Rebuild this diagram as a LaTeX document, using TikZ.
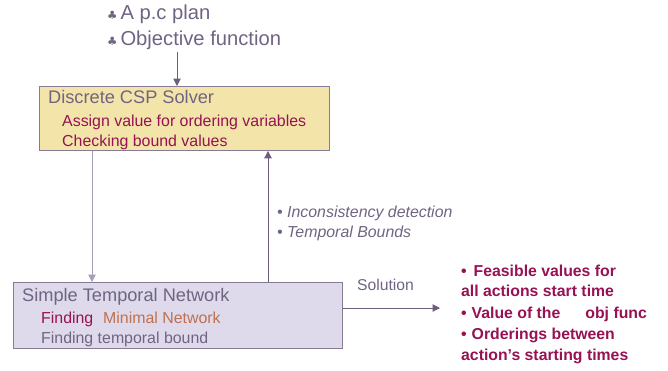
\documentclass[tikz,border=0pt]{standalone}
\usepackage{fontspec}
\setmainfont{Liberation Sans}
\newfontfamily\symfont{DejaVu Sans}
\usetikzlibrary{arrows.meta}
\definecolor{inkgray}{RGB}{112,100,130}
\definecolor{maroon}{RGB}{150,18,82}
\definecolor{rust}{RGB}{192,112,78}
\definecolor{solverfill}{RGB}{243,229,170}
\definecolor{stnfill}{RGB}{222,218,236}
\definecolor{frame}{RGB}{135,122,148}
\definecolor{lightlink}{RGB}{168,158,184}
\definecolor{darklink}{RGB}{108,94,124}
\tikzset{
  txt/.style={inner sep=0pt, anchor=base west},
  head/.style={txt, text=inkgray, font=\fontsize{18.2}{20}\selectfont},
  sub/.style={txt, font=\fontsize{15.9}{18}\selectfont},
  lbl/.style={txt, text=inkgray, font=\fontsize{15.7}{18}\selectfont},
  res/.style={txt, text=maroon, font=\bfseries\fontsize{15.8}{18}\selectfont},
  panel/.style={draw=frame, line width=0.9pt, anchor=north west, inner sep=0pt},
  link/.style={line width=1pt, -{Triangle[length=7.5pt,width=7.5pt]}},
}
\newcommand{\club}{{\symfont\fontsize{11.5}{11.5}\selectfont\char"2663}}
\begin{document}
\begin{tikzpicture}[x=1pt,y=-1pt]
\useasboundingbox (0,0) rectangle (668,370);

% inputs
\node[head, font=\fontsize{20.2}{22}\selectfont] (plan) at (107,19) {\club\hspace{3pt}A p.c plan};
\node[head, font=\fontsize{20.2}{22}\selectfont] (objf) at (107,45) {\club\hspace{3pt}Objective function};
\coordinate (inp) at (177,52);

% CSP solver panel
\node[panel, fill=solverfill, minimum width=290pt, minimum height=64pt] (csp) at (39,86) {};
\node[head] (csph) at (48,103.5) {Discrete CSP Solver};
\node[sub, text=maroon] (csp1) at (62,126.5) {Assign value for ordering variables};
\node[sub, text=maroon] (csp2) at (62,146) {Checking bound values};

% STN panel
\node[panel, fill=stnfill, minimum width=329pt, minimum height=66pt] (stn) at (13,282) {};
\node[head] (stnh) at (22,301) {Simple Temporal Network};
\node[sub, text=maroon] (stn1) at (41,323.5) {Finding};
\node[sub, text=rust] (stn2) at (103,323.5) {Minimal Network};
\node[sub, text=inkgray] (stn3) at (41,343.5) {Finding temporal bound};

% feedback labels
\node[lbl, font=\itshape\fontsize{15.9}{18}\selectfont] (fb1) at (277,217) {\textbullet\ Inconsistency detection};
\node[lbl, font=\itshape\fontsize{15.9}{18}\selectfont] (fb2) at (277,237) {\textbullet\ Temporal Bounds};

% solution
\node[lbl] (sol) at (357,290.5) {Solution};
\coordinate (out) at (440,308);
\node[res] (r1) at (461,276.5) {\textbullet\hspace{7pt}Feasible values for};
\node[res] (r2) at (461,296.5) {all actions start time};
\node[res] (r3) at (461,318.5) {\textbullet\hspace{5pt}Value of the\hspace{25pt}obj func};
\node[res] (r4) at (461,339.5) {\textbullet\hspace{5pt}Orderings between};
\node[res] (r5) at (461,360.5) {action’s starting times};

% connectors
\coordinate (dn) at (92,0);
\coordinate (up) at (268,0);
\draw[link, draw=darklink, fill=darklink] (inp) -- (inp |- csp.north);
\draw[link, draw=lightlink, fill=darklink] (csp.south -| dn) -- (stn.north -| dn);
\draw[link, draw=darklink, fill=darklink] (stn.north -| up) -- (csp.south -| up);
\draw[link, draw=darklink, fill=darklink] (stn.east |- out) -- (out);
\end{tikzpicture}
\end{document}
